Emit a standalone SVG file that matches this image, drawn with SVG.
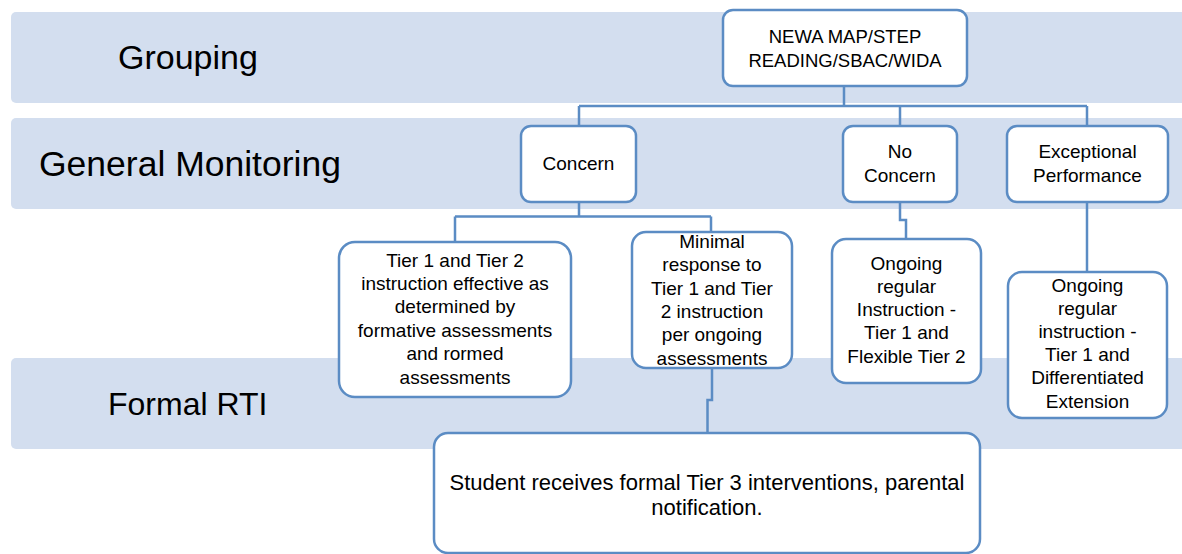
<svg xmlns="http://www.w3.org/2000/svg" width="1182" height="554" viewBox="0 0 1182 554">
<style>
.band{fill:#D3DEEF;}
.lbl{font-family:"Liberation Sans",Arial,sans-serif;font-size:34px;fill:#000;}
.box{fill:#fff;stroke:#5B8CC4;stroke-width:2.5;}
.t{font-family:"Liberation Sans",Arial,sans-serif;font-size:19px;fill:#000;text-anchor:middle;}
.c{fill:none;stroke:#5B8CC4;stroke-width:2.5;}
</style>
<rect width="1182" height="554" fill="#fff"/>
<g id="bands">
<rect class="band" x="11" y="12" width="1185" height="91" rx="5"/>
<rect class="band" x="11" y="118" width="1185" height="91" rx="5"/>
<rect class="band" x="11" y="358" width="1185" height="91" rx="5"/>
<text class="lbl" x="118" y="69">Grouping</text>
<text class="lbl" x="39" y="176" style="font-size:35.5px">General Monitoring</text>
<text class="lbl" x="108" y="415" style="font-size:32px">Formal RTI</text>
</g>
<g id="connectors">
<path class="c" d="M844 86 V106 M579 106 H1087 M579 106 V126 M900 106 V126 M1087 106 V126"/>
<path class="c" d="M579 202 V216.5 M455 216.5 H711 M455 216.5 V242 M711 216.5 V232"/>
<path class="c" d="M900 202 V220 H906 V239"/>
<path class="c" d="M1087 202 V272"/>
<path class="c" d="M712 368 V400 H707.5 V433"/>
</g>
<g id="n-top">
<rect class="box" x="723" y="10" width="244" height="76" rx="10"/>
<text class="t" x="845" y="43" style="font-size:18.5px">NEWA MAP/STEP</text>
<text class="t" x="845" y="67" style="font-size:18.5px">READING/SBAC/WIDA</text>
</g>
<g id="n-concern">
<rect class="box" x="521" y="126" width="115" height="76" rx="10"/>
<text class="t" x="578.5" y="170">Concern</text>
</g>
<g id="n-noconcern">
<rect class="box" x="843" y="126" width="114" height="76" rx="10"/>
<text class="t" x="900" y="158">No</text>
<text class="t" x="900" y="182">Concern</text>
</g>
<g id="n-exceptional">
<rect class="box" x="1007" y="126" width="161" height="76" rx="10"/>
<text class="t" x="1087.5" y="158">Exceptional</text>
<text class="t" x="1087.5" y="182">Performance</text>
</g>
<g id="n-effective">
<rect class="box" x="339" y="242" width="232" height="155" rx="16"/>
<text class="t" x="455" y="267">Tier 1 and Tier 2</text>
<text class="t" x="455" y="290">instruction effective as</text>
<text class="t" x="455" y="313">determined by</text>
<text class="t" x="455" y="337">formative assessments</text>
<text class="t" x="455" y="360">and rormed</text>
<text class="t" x="455" y="384">assessments</text>
</g>
<g id="n-minimal">
<rect class="box" x="632" y="232" width="160" height="136" rx="14"/>
<text class="t" x="712" y="248">Minimal</text>
<text class="t" x="712" y="271">response to</text>
<text class="t" x="712" y="295">Tier 1 and Tier</text>
<text class="t" x="712" y="318">2 instruction</text>
<text class="t" x="712" y="341">per ongoing</text>
<text class="t" x="712" y="365">assessments</text>
</g>
<g id="n-ongoing1">
<rect class="box" x="832" y="239" width="149" height="144" rx="14"/>
<text class="t" x="906.5" y="270">Ongoing</text>
<text class="t" x="906.5" y="293">regular</text>
<text class="t" x="906.5" y="316">Instruction -</text>
<text class="t" x="906.5" y="339">Tier 1 and</text>
<text class="t" x="906.5" y="363">Flexible Tier 2</text>
</g>
<g id="n-ongoing2">
<rect class="box" x="1008" y="272" width="159" height="146" rx="14"/>
<text class="t" x="1087.5" y="292">Ongoing</text>
<text class="t" x="1087.5" y="315">regular</text>
<text class="t" x="1087.5" y="338">instruction -</text>
<text class="t" x="1087.5" y="361">Tier 1 and</text>
<text class="t" x="1087.5" y="384">Differentiated</text>
<text class="t" x="1087.5" y="408">Extension</text>
</g>
<g id="n-student">
<rect class="box" x="434" y="433" width="546" height="120" rx="14"/>
<text class="t" x="707" y="490" style="font-size:22px">Student receives formal Tier 3 interventions, parental</text>
<text class="t" x="707" y="515" style="font-size:22px">notification.</text>
</g>
</svg>
